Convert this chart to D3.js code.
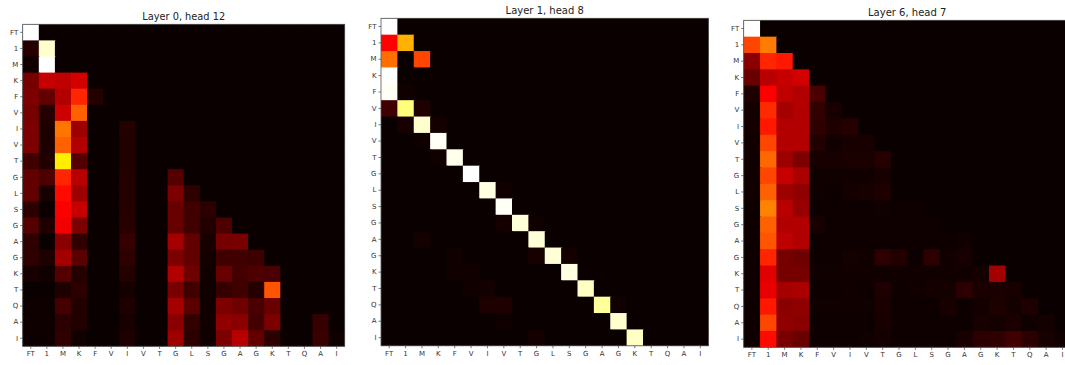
<!DOCTYPE html>
<html>
<head>
<meta charset="utf-8">
<script src="https://cdn.jsdelivr.net/npm/d3@7"></script>
<style>
  html, body { margin: 0; padding: 0; background: #fff; }
  svg { display: block; font-family: 'DejaVu Sans', sans-serif; }
</style>
</head>
<body>
<div id="chart"></div>
<script>
const WIDTH = 1065;
const HEIGHT = 365;

// residue labels, shared by rows and columns
const tokens = ['FT', '1', 'M', 'K', 'F', 'V', 'I', 'V', 'T', 'G', 'L', 'S', 'G', 'A', 'G', 'K', 'T', 'Q', 'A', 'I'];

const titles = ['Layer 0, head 12', 'Layer 1, head 8', 'Layer 6, head 7'];

// attention weights (row = query, column = key)
const layer0Head12 = [
  [1, 0, 0, 0, 0, 0, 0, 0, 0, 0, 0, 0, 0, 0, 0, 0, 0, 0, 0, 0],
  [.04, .95, 0, 0, 0, 0, 0, 0, 0, 0, 0, 0, 0, 0, 0, 0, 0, 0, 0, 0],
  [.01, 1, 0, 0, 0, 0, 0, 0, 0, 0, 0, 0, 0, 0, 0, 0, 0, 0, 0, 0],
  [.16, .28, .27, .30, 0, 0, 0, 0, 0, 0, 0, 0, 0, 0, 0, 0, 0, 0, 0, 0],
  [.17, .13, .25, .42, .04, 0, 0, 0, 0, 0, 0, 0, 0, 0, 0, 0, 0, 0, 0, 0],
  [.16, .04, .29, .51, 0, 0, 0, 0, 0, 0, 0, 0, 0, 0, 0, 0, 0, 0, 0, 0],
  [.17, .03, .54, .22, 0, 0, .04, 0, 0, 0, 0, 0, 0, 0, 0, 0, 0, 0, 0, 0],
  [.17, .03, .51, .25, 0, 0, .035, 0, 0, 0, 0, 0, 0, 0, 0, 0, 0, 0, 0, 0],
  [.08, .035, .72, .11, 0, 0, .035, 0, 0, 0, 0, 0, 0, 0, 0, 0, 0, 0, 0, 0],
  [.13, .10, .42, .26, 0, 0, .04, 0, 0, .11, 0, 0, 0, 0, 0, 0, 0, 0, 0, 0],
  [.13, .02, .38, .22, 0, 0, .04, 0, 0, .17, .055, 0, 0, 0, 0, 0, 0, 0, 0, 0],
  [.05, 0, .36, .28, 0, 0, .04, 0, 0, .14, .08, .05, 0, 0, 0, 0, 0, 0, 0, 0],
  [.11, .03, .35, .17, 0, 0, .045, 0, 0, .14, .08, .035, .10, 0, 0, 0, 0, 0, 0, 0],
  [.055, 0, .19, .055, 0, 0, .065, 0, 0, .23, .13, .02, .16, .165, 0, 0, 0, 0, 0, 0],
  [.055, .03, .23, .12, 0, 0, .055, 0, 0, .17, .13, .015, .08, .08, .075, 0, 0, 0, 0, 0],
  [.02, .01, .11, .04, 0, 0, .04, 0, 0, .25, .15, .01, .14, .085, .10, .095, 0, 0, 0, 0],
  [0, 0, .03, .05, 0, 0, .015, 0, 0, .165, .08, .01, .065, .08, .04, .49, 0, 0, 0, 0],
  [.005, .005, .085, .035, 0, 0, .03, 0, 0, .23, .12, .01, .17, .15, .095, .14, 0, 0, 0, 0],
  [.005, .005, .05, .035, 0, 0, .02, 0, 0, .19, .06, .01, .20, .19, .085, .17, 0, 0, .065, 0],
  [.005, .005, .055, .01, 0, 0, .03, 0, 0, .22, .05, .01, .17, .26, .13, .05, 0, 0, .07, .01]
];

const layer1Head8 = [
  [1, 0, 0, 0, 0, 0, 0, 0, 0, 0, 0, 0, 0, 0, 0, 0, 0, 0, 0, 0],
  [.365, .63, 0, 0, 0, 0, 0, 0, 0, 0, 0, 0, 0, 0, 0, 0, 0, 0, 0, 0],
  [.53, 0, .47, 0, 0, 0, 0, 0, 0, 0, 0, 0, 0, 0, 0, 0, 0, 0, 0, 0],
  [1, 0, 0, 0, 0, 0, 0, 0, 0, 0, 0, 0, 0, 0, 0, 0, 0, 0, 0, 0],
  [.99, .01, 0, 0, 0, 0, 0, 0, 0, 0, 0, 0, 0, 0, 0, 0, 0, 0, 0, 0],
  [.08, .87, .03, 0, 0, 0, 0, 0, 0, 0, 0, 0, 0, 0, 0, 0, 0, 0, 0, 0],
  [0, .02, .95, .015, 0, 0, 0, 0, 0, 0, 0, 0, 0, 0, 0, 0, 0, 0, 0, 0],
  [0, 0, .005, .99, 0, 0, 0, 0, 0, 0, 0, 0, 0, 0, 0, 0, 0, 0, 0, 0],
  [0, 0, 0, .01, .98, 0, 0, 0, 0, 0, 0, 0, 0, 0, 0, 0, 0, 0, 0, 0],
  [0, 0, 0, 0, 0, 1, 0, 0, 0, 0, 0, 0, 0, 0, 0, 0, 0, 0, 0, 0],
  [0, 0, 0, 0, 0, 0, .97, .01, 0, 0, 0, 0, 0, 0, 0, 0, 0, 0, 0, 0],
  [0, 0, 0, 0, 0, 0, 0, .99, 0, 0, 0, 0, 0, 0, 0, 0, 0, 0, 0, 0],
  [0, 0, 0, 0, 0, 0, 0, .015, .96, .01, 0, 0, 0, 0, 0, 0, 0, 0, 0, 0],
  [0, 0, .015, 0, 0, 0, 0, 0, 0, .96, 0, 0, 0, 0, 0, 0, 0, 0, 0, 0],
  [0, 0, 0, 0, .01, 0, 0, 0, 0, .02, .96, .015, 0, 0, 0, 0, 0, 0, 0, 0],
  [0, 0, 0, 0, .01, .01, 0, 0, 0, 0, 0, .97, 0, 0, 0, 0, 0, 0, 0, 0],
  [0, 0, 0, 0, 0, .01, .012, 0, 0, 0, 0, 0, .94, 0, 0, 0, 0, 0, 0, 0],
  [0, 0, 0, 0, 0, 0, .03, .03, 0, 0, 0, 0, 0, .90, .01, 0, 0, 0, 0, 0],
  [0, 0, 0, 0, 0, 0, 0, .008, 0, 0, 0, 0, 0, 0, .95, 0, 0, 0, 0, 0],
  [0, 0, 0, 0, 0, 0, 0, 0, 0, .015, 0, 0, 0, 0, 0, .94, 0, 0, 0, 0]
];

const layer6Head7 = [
  [1, 0, 0, 0, 0, 0, 0, 0, 0, 0, 0, 0, 0, 0, 0, 0, 0, 0, 0, 0],
  [.47, .55, 0, 0, 0, 0, 0, 0, 0, 0, 0, 0, 0, 0, 0, 0, 0, 0, 0, 0],
  [.19, .42, .40, 0, 0, 0, 0, 0, 0, 0, 0, 0, 0, 0, 0, 0, 0, 0, 0, 0],
  [.14, .26, .28, .30, 0, 0, 0, 0, 0, 0, 0, 0, 0, 0, 0, 0, 0, 0, 0, 0],
  [.03, .36, .27, .25, .095, 0, 0, 0, 0, 0, 0, 0, 0, 0, 0, 0, 0, 0, 0, 0],
  [.015, .43, .23, .25, .06, .02, 0, 0, 0, 0, 0, 0, 0, 0, 0, 0, 0, 0, 0, 0],
  [.015, .40, .25, .25, .055, .03, .04, 0, 0, 0, 0, 0, 0, 0, 0, 0, 0, 0, 0, 0],
  [.01, .47, .25, .25, .035, .01, .02, .02, 0, 0, 0, 0, 0, 0, 0, 0, 0, 0, 0, 0],
  [.01, .52, .22, .17, .02, .02, .025, .025, .04, 0, 0, 0, 0, 0, 0, 0, 0, 0, 0, 0],
  [.01, .47, .28, .24, .01, .01, .01, .01, .02, 0, 0, 0, 0, 0, 0, 0, 0, 0, 0, 0],
  [.01, .51, .22, .20, .01, .005, .015, .02, .03, 0, 0, 0, 0, 0, 0, 0, 0, 0, 0, 0],
  [.005, .56, .26, .21, .005, .005, .005, .005, .01, .005, .005, 0, 0, 0, 0, 0, 0, 0, 0, 0],
  [.005, .51, .25, .25, .02, .005, .005, .005, .005, .005, .005, .005, 0, 0, 0, 0, 0, 0, 0, 0],
  [.005, .49, .27, .25, .005, .005, .005, .005, .005, .005, .005, .005, .005, .01, 0, 0, 0, 0, 0, 0],
  [.005, .42, .16, .15, .005, .005, .015, .01, .05, .035, .005, .05, .01, .02, 0, 0, 0, 0, 0, 0],
  [.005, .32, .16, .16, .01, .01, .01, .01, .01, .01, .01, .01, .01, .01, .015, .23, 0, 0, 0, 0],
  [.005, .33, .23, .24, .005, .005, .01, .005, .03, .005, .01, .015, .015, .05, .025, .025, .02, 0, 0, 0],
  [.005, .40, .19, .20, .01, .01, .01, .01, .025, .005, .005, .005, .02, .005, .015, .03, .015, .03, 0, 0],
  [.005, .47, .20, .19, .005, .005, .005, .005, .02, .005, .005, .005, .005, .005, .02, .015, .025, .01, .015, 0],
  [.005, .38, .165, .14, .005, .005, .005, .01, .015, .005, .005, .005, .005, .02, .05, .055, .08, .05, .02, .01]
];

const matrices = [layer0Head12, layer1Head8, layer6Head7];

// where each heatmap sits on the page
const PANELS = [
  { left: 22.7, top: 24.3, size: 322, titleY: 20, titleSize: 9.8 },
  { left: 381, top: 18.3, size: 327.5, titleY: 14, titleSize: 10 },
  { left: 743.7, top: 20.3, size: 327, titleY: 16, titleSize: 10 }
];

// matplotlib 'hot' colormap
function hot(t) {
  t = Math.max(0, Math.min(1, t));
  const r = t < 0.365079 ? 0.0416 + (1 - 0.0416) * t / 0.365079 : 1;
  const g = t < 0.365079 ? 0 : t < 0.746032 ? (t - 0.365079) / (0.746032 - 0.365079) : 1;
  const b = t < 0.746032 ? 0 : (t - 0.746032) / (1 - 0.746032);
  return d3.rgb(r * 255, g * 255, b * 255).formatHex();
}

const color = d3.scaleSequential(hot).domain([0, 1]);

const svg = d3.select('#chart')
  .append('svg')
  .attr('width', WIDTH)
  .attr('height', HEIGHT);

PANELS.forEach((p, k) => drawHeatmap(p, matrices[k], titles[k]));

function drawHeatmap(p, matrix, title) {
  const n = tokens.length;
  const idx = d3.range(n);
  const x = d3.scaleBand().domain(idx).range([p.left, p.left + p.size]);
  const y = d3.scaleBand().domain(idx).range([p.top, p.top + p.size]);

  const cells = [];
  matrix.forEach((row, i) => row.forEach((v, j) => cells.push({ i, j, v })));

  const g = svg.append('g');

  // background fill so seams between cells never show white
  g.append('rect')
    .attr('x', p.left)
    .attr('y', p.top)
    .attr('width', p.size)
    .attr('height', p.size)
    .attr('fill', color(0));

  g.selectAll('rect.cell')
    .data(cells)
    .join('rect')
    .attr('class', 'cell')
    .attr('x', d => x(d.j))
    .attr('y', d => y(d.i))
    .attr('width', d => x.bandwidth() + (d.j < n - 1 ? 1 : 0))
    .attr('height', d => y.bandwidth() + (d.i < n - 1 ? 1 : 0))
    .attr('fill', d => color(d.v));

  g.append('rect')
    .attr('x', p.left)
    .attr('y', p.top)
    .attr('width', p.size)
    .attr('height', p.size)
    .attr('fill', 'none')
    .attr('stroke', '#555')
    .attr('stroke-width', 0.8);

  const fmt = i => tokens[i];

  g.append('g')
    .attr('transform', `translate(${p.left},0)`)
    .call(d3.axisLeft(y).tickFormat(fmt).tickSize(2.5).tickPadding(2))
    .call(styleAxis);

  g.append('g')
    .attr('transform', `translate(0,${p.top + p.size})`)
    .call(d3.axisBottom(x).tickFormat(fmt).tickSize(2.5).tickPadding(2.5))
    .call(styleAxis);

  g.append('text')
    .attr('x', p.left + p.size / 2)
    .attr('y', p.titleY)
    .attr('text-anchor', 'middle')
    .style('font-size', p.titleSize + 'px')
    .style('fill', '#222')
    .text(title);
}

function styleAxis(a) {
  a.select('.domain').remove();
  a.selectAll('.tick line').attr('stroke', '#444').attr('stroke-width', 0.7);
  a.selectAll('.tick text')
    .style('font-family', "'DejaVu Sans', sans-serif")
    .style('font-size', '7px')
    .style('fill', '#333');
}
</script>
</body>
</html>
